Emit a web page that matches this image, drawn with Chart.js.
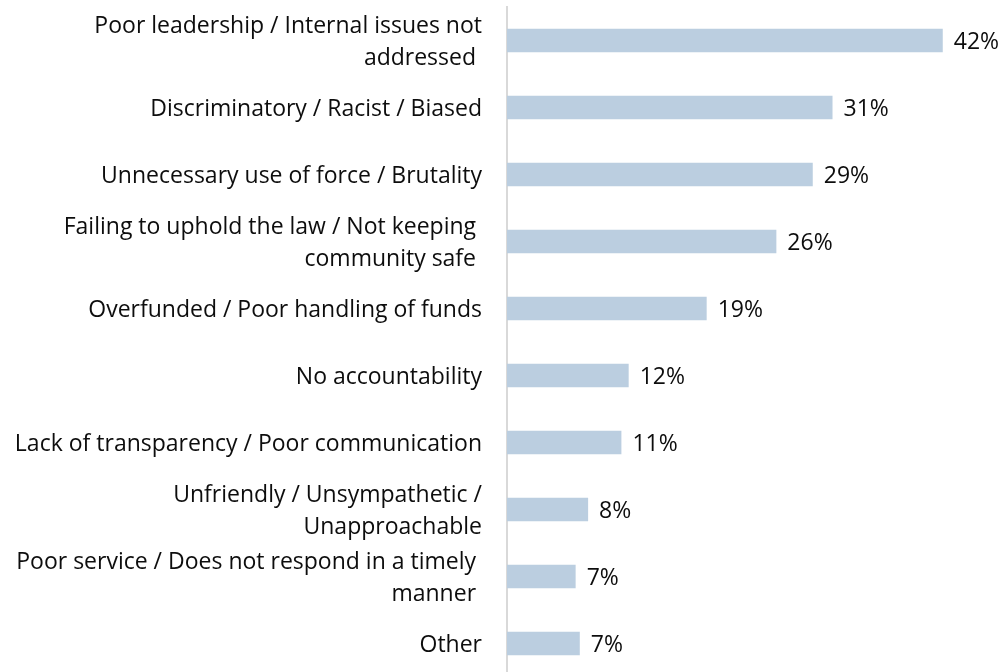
<!DOCTYPE html>
<html>
<head>
<meta charset="utf-8">
<script src="https://cdn.jsdelivr.net/npm/chart.js@4.4.1/dist/chart.umd.min.js"></script>
<style>
  html, body { margin: 0; padding: 0; background: #fff; overflow: hidden; }
  #wrap { width: 1002px; height: 677px; }
</style>
</head>
<body>
<div id="wrap"><canvas id="chart" width="1002" height="677"></canvas></div>
<script>
// Data
var categories = [
  ['Poor leadership / Internal issues not', 'addressed '],
  'Discriminatory / Racist / Biased',
  'Unnecessary use of force / Brutality',
  ['Failing to uphold the law / Not keeping ', 'community safe '],
  'Overfunded / Poor handling of funds',
  'No accountability',
  'Lack of transparency / Poor communication',
  ['Unfriendly / Unsympathetic /', 'Unapproachable'],
  ['Poor service / Does not respond in a timely ', 'manner '],
  'Other'
];
var shares = [41.9, 31.3, 29.4, 25.9, 19.2, 11.7, 11.0, 7.8, 6.6, 7.0];
var shareLabels = ['42%', '31%', '29%', '26%', '19%', '12%', '11%', '8%', '7%', '7%'];

var fontFamily = '"Open Sans", "Noto Sans", sans-serif';
var fontSize = 23;

// draws the % next to each bar
var valueLabels = {
  id: 'valueLabels',
  afterDatasetsDraw: function(chart) {
    var ctx = chart.ctx;
    var meta = chart.getDatasetMeta(0);
    ctx.save();
    ctx.font = fontSize + 'px ' + fontFamily;
    ctx.fillStyle = '#0d0d0d';
    ctx.textAlign = 'left';
    ctx.textBaseline = 'middle';
    for (var i = 0; i < meta.data.length; i++) {
      var bar = meta.data[i];
      ctx.fillText(shareLabels[i], bar.x + 11, bar.y + 2);
    }
    ctx.restore();
  }
};

var ctx = document.getElementById('chart').getContext('2d');
var chart = new Chart(ctx, {
  type: 'bar',
  data: {
    labels: categories,
    datasets: [{
      data: shares,
      backgroundColor: '#BBCEE0',
      borderWidth: 0,
      barPercentage: 0.35,
      categoryPercentage: 1
    }]
  },
  options: {
    indexAxis: 'y',
    responsive: false,
    animation: false,
    layout: { padding: { top: 7, right: 27, left: 0, bottom: 0 } },
    plugins: {
      legend: { display: false },
      tooltip: { enabled: false }
    },
    scales: {
      x: {
        display: false,
        min: 0,
        max: 45
      },
      y: {
        grid: { display: false, drawTicks: false },
        border: { display: true, color: '#D9D9D9', width: 2 },
        ticks: {
          autoSkip: false,
          color: '#0d0d0d',
          padding: 25,
          labelOffset: 2,
          font: { family: fontFamily, size: fontSize, lineHeight: 1.4 }
        },
        afterFit: function(scale) {
          // fixed axis position, no extra room for the first/last label
          scale.width = 507;
          scale.paddingTop = 0;
          scale.paddingBottom = 0;
        }
      }
    }
  },
  plugins: [valueLabels]
});
</script>
</body>
</html>
